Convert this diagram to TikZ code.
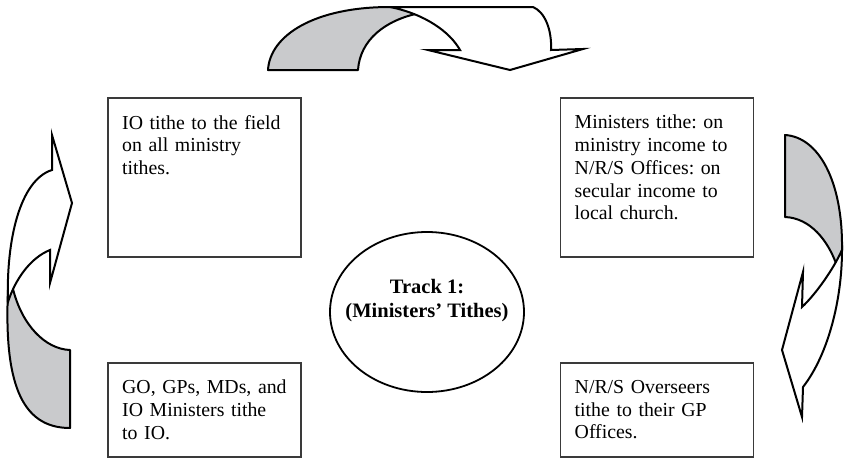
\documentclass[tikz,border=0pt]{standalone}
\usepackage{fontspec}
\setmainfont{Liberation Serif}
\usepackage{xcolor}
\usetikzlibrary{shapes.geometric,positioning}

\definecolor{bandgrey}{RGB}{201,202,204}
\definecolor{boxline}{RGB}{58,58,58}

\begin{document}
\frenchspacing
\begin{tikzpicture}[x=1pt, y=-1pt]
    \tikzstyle{tbox} = [rectangle, draw=boxline, line width=1.5pt, minimum width=193pt, minimum height=159pt, inner sep=0pt]
    \tikzstyle{sbox} = [tbox, minimum height=94pt]
    \tikzstyle{btext} = [text width=168pt, align=left, inner sep=0pt, font=\fontsize{19.8}{22.7}\selectfont]
    \tikzstyle{hub} = [ellipse, draw, line width=1.8pt, minimum width=194pt, minimum height=160pt]
    \tikzstyle{hubtext} = [align=center, inner sep=0pt, font=\fontsize{20.5}{24}\selectfont\bfseries]
    \tikzstyle{greyband} = [fill=bandgrey, draw=black, line width=2pt, line join=round]
    \tikzstyle{whiteband} = [fill=white, draw=black, line width=2pt, line join=miter]

    \useasboundingbox (0,0) rectangle (851,458);

    % Top arrow
    \draw [greyband] (268,70) -- (358,70) .. controls (360,40) and (385,20) .. (420,13) -- (420,7) -- (390,7) .. controls (315,7) and (270,35) .. (268,70) -- cycle;
    \draw [whiteband] (390,7) -- (533,7) .. controls (545,12) and (552,30) .. (551,50) -- (583,49) -- (510,70) -- (428,50) -- (460,50) .. controls (450,32) and (425,14) .. (390,7) -- cycle;

    % Right arrow
    \draw [greyband] (785,135) .. controls (818,137) and (843,180) .. (842,250) -- (837,266) .. controls (828,240) and (810,218) .. (785,217) -- cycle;
    \draw [whiteband] (842,250) .. controls (842,300) and (828,355) .. (803,387) -- (802,417) -- (782,350) -- (803,272) -- (802,307) .. controls (815,295) and (833,270) .. (842,250) -- cycle;

    % Left arrow
    \draw [greyband] (70,428) -- (70,350) .. controls (45,349) and (22,325) .. (13,289) -- (8,290) .. controls (4,380) and (20,428) .. (70,428) -- cycle;
    \draw [whiteband] (52,135) -- (72,203) -- (50,283) -- (50,250) .. controls (30,258) and (15,280) .. (8,302) .. controls (6,240) and (20,180) .. (52,170) -- cycle;

    % Boxes
    \node [tbox, anchor=north west] (iobox) at (107,97) {};
    \node [tbox, right=258pt of iobox] (minbox) {};
    \node [sbox, anchor=north west] (gobox) at (107,362) {};
    \node [sbox, right=258pt of gobox] (nrsbox) {};

    % Box texts
    \node [btext, below right=18pt and 15pt of iobox.north west] (iotext) {IO tithe to the field\\on all ministry\\tithes.};
    \node [btext, below right=18pt and 15pt of minbox.north west] (mintext) {Ministers tithe: on\\ministry income to\\N/R/S Offices: on\\secular income to\\local church.};
    \node [btext, below right=18pt and 15pt of gobox.north west] (gotext) {GO, GPs, MDs, and\\IO Ministers tithe\\to IO.};
    \node [btext, below right=18pt and 15pt of nrsbox.north west] (nrstext) {N/R/S Overseers\\tithe to their GP\\Offices.};

    % Track in the middle
    \node [hub] (track) at (427,312) {};
    \node [hubtext] (tracktext) at ([yshift=11pt]track.center) {Track 1:\\(Ministers' Tithes)};
\end{tikzpicture}
\end{document}
